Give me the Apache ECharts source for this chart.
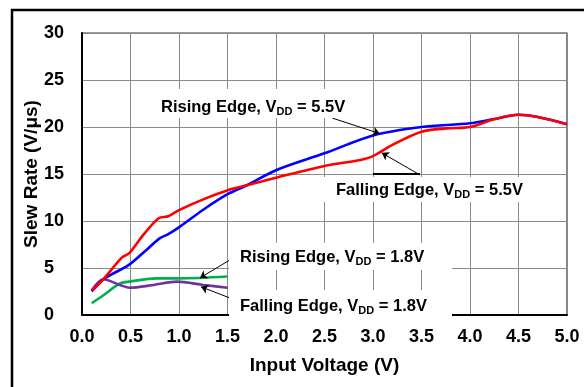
<!DOCTYPE html>
<html>
<head>
<meta charset="utf-8">
<script src="https://cdn.jsdelivr.net/npm/echarts@6/dist/echarts.min.js"></script>
<style>
  html, body { margin: 0; padding: 0; background: #fff; }
  #slewChart { width: 584px; height: 387px; }
</style>
</head>
<body>
<div id="slewChart"></div>
<script>
// values (input voltage in V, slew rate in V/us)
const rising55X = [0.1, 0.22, 0.3, 0.48, 0.64, 0.8, 0.89, 1.01, 1.25, 1.51, 1.7, 2.0, 2.5, 3.0, 3.5, 4.0, 4.25, 4.5, 5.0]
const rising55Y = [2.5, 3.8, 4.3, 5.3, 6.7, 8.15, 8.6, 9.4, 11.2, 12.9, 13.8, 15.4, 17.2, 19.1, 20.0, 20.4, 20.85, 21.3, 20.3]

const falling55X = [0.1, 0.22, 0.41, 0.49, 0.63, 0.79, 0.89, 0.99, 1.25, 1.51, 1.7, 2.0, 2.5, 2.87, 3.0, 3.2, 3.5, 3.76, 4.0, 4.24, 4.5, 5.0]
const falling55Y = [2.6, 3.8, 6.1, 6.6, 8.5, 10.3, 10.5, 11.1, 12.3, 13.3, 13.8, 14.6, 15.85, 16.5, 16.9, 18.1, 19.5, 19.85, 20.0, 20.8, 21.3, 20.3]

const rising18X = [0.1, 0.22, 0.39, 0.49, 0.77, 1.0, 1.5]
const rising18Y = [1.25, 2.1, 3.35, 3.55, 3.9, 3.9, 4.1]

const falling18X = [0.1, 0.22, 0.39, 0.49, 0.74, 0.98, 1.25, 1.5]
const falling18Y = [2.6, 3.8, 3.2, 2.9, 3.2, 3.55, 3.2, 2.9]

// annotation arrows: [fromX, fromY, toX, toY]
const arrows = [
  [2.58, 20.95, 3.07, 19.3],
  [3.485, 14.9, 3.09, 17.25],
  [1.557, 6.06, 1.216, 3.94],
  [1.577, 1.6, 1.227, 3.0]
]

const font = '"Liberation Sans", Arial, sans-serif'

const pairs = (xs, ys) => xs.map((x, i) => [x, ys[i]])

const chart = echarts.init(document.getElementById('slewChart'))

const lineSeries = (name, xs, ys, color, z) => ({
  name,
  type: 'line',
  data: pairs(xs, ys),
  smooth: 0.3,
  showSymbol: false,
  symbol: 'none',
  z,
  lineStyle: { color, width: 2.6 }
})

// white label boxes that hide the grid behind the texts
const box = (x, y, width, height) => ({
  type: 'rect',
  z: 10,
  shape: { x, y, width, height },
  style: { fill: '#fff' },
  silent: true
})

const label = (x, y, text) => ({
  type: 'text',
  z: 11,
  x,
  y,
  silent: true,
  style: {
    text,
    align: 'left',
    verticalAlign: 'middle',
    rich: {
      a: { fontFamily: font, fontWeight: 'bold', fontSize: 16.5, fill: '#000' },
      s: { fontFamily: font, fontWeight: 'bold', fontSize: 11, fill: '#000', padding: [10, 0, 0, 0] }
    }
  }
})

chart.setOption({
  animation: false,
  backgroundColor: '#fff',
  grid: {
    left: 82,
    right: 17,
    top: 33,
    bottom: 72,
    show: true,
    borderColor: '#333',
    borderWidth: 1.2
  },
  xAxis: {
    type: 'value',
    min: 0,
    max: 5,
    interval: 0.5,
    name: 'Input Voltage (V)',
    nameLocation: 'middle',
    nameGap: 41,
    nameMoveOverlap: false,
    nameTextStyle: { fontFamily: font, fontWeight: 'bold', fontSize: 19, color: '#000' },
    axisLine: { lineStyle: { color: '#000', width: 2 } },
    axisTick: { show: false },
    axisLabel: {
      margin: 13,
      fontFamily: font,
      fontWeight: 'bold',
      fontSize: 18,
      color: '#000',
      formatter: (v) => v.toFixed(1)
    },
    splitLine: { show: true, lineStyle: { color: '#8a8a8a', width: 1 } }
  },
  yAxis: {
    type: 'value',
    min: 0,
    max: 30,
    interval: 5,
    name: 'Slew Rate (V/μs)',
    nameLocation: 'middle',
    nameGap: 41,
    nameMoveOverlap: false,
    nameTextStyle: { fontFamily: font, fontWeight: 'bold', fontSize: 19, color: '#000' },
    axisLine: { show: true, lineStyle: { color: '#000', width: 2 } },
    axisTick: { show: false },
    axisLabel: {
      margin: 38,
      align: 'left',
      fontFamily: font,
      fontWeight: 'bold',
      fontSize: 18,
      color: '#000'
    },
    splitLine: { show: true, lineStyle: { color: '#8a8a8a', width: 1 } }
  },
  graphic: [
    {
      type: 'rect',
      z: 0,
      silent: true,
      shape: { x: 12, y: 10, width: 640, height: 420 },
      style: { fill: 'none', stroke: '#000', lineWidth: 2.5 }
    },
    box(155, 89, 195, 29),
    box(316, 177, 214, 25),
    box(229, 243, 223, 27),
    box(229, 290, 223, 30),
    label(161, 107, '{a|Rising Edge, V}{s|DD}{a| = 5.5V}'),
    label(336, 190, '{a|Falling Edge, V}{s|DD}{a| = 5.5V}'),
    label(240, 257, '{a|Rising Edge, V}{s|DD}{a| = 1.8V}'),
    label(240, 306, '{a|Falling Edge, V}{s|DD}{a| = 1.8V}')
  ],
  series: [
    lineSeries('Rising Edge, VDD = 1.8V', rising18X, rising18Y, '#00b050', 2),
    lineSeries('Falling Edge, VDD = 1.8V', falling18X, falling18Y, '#7030a0', 3),
    lineSeries('Rising Edge, VDD = 5.5V', rising55X, rising55Y, '#0000ff', 4),
    lineSeries('Falling Edge, VDD = 5.5V', falling55X, falling55Y, '#ff0000', 5),
    {
      name: 'notes',
      type: 'line',
      data: [],
      z: 20,
      markLine: {
        silent: true,
        animation: false,
        label: { show: false },
        emphasis: { disabled: true },
        data: [
          ...arrows.map((a) => [
            { coord: [a[0], a[1]], symbol: 'none', lineStyle: { color: '#000', width: 1, type: 'solid' } },
            { coord: [a[2], a[3]], symbol: 'arrow', symbolSize: 7 }
          ]),
          [
            { coord: [3.0, 15], symbol: 'none', lineStyle: { color: '#000', width: 2, type: 'solid' } },
            { coord: [3.485, 15], symbol: 'none' }
          ]
        ]
      }
    }
  ]
})
</script>
</body>
</html>
